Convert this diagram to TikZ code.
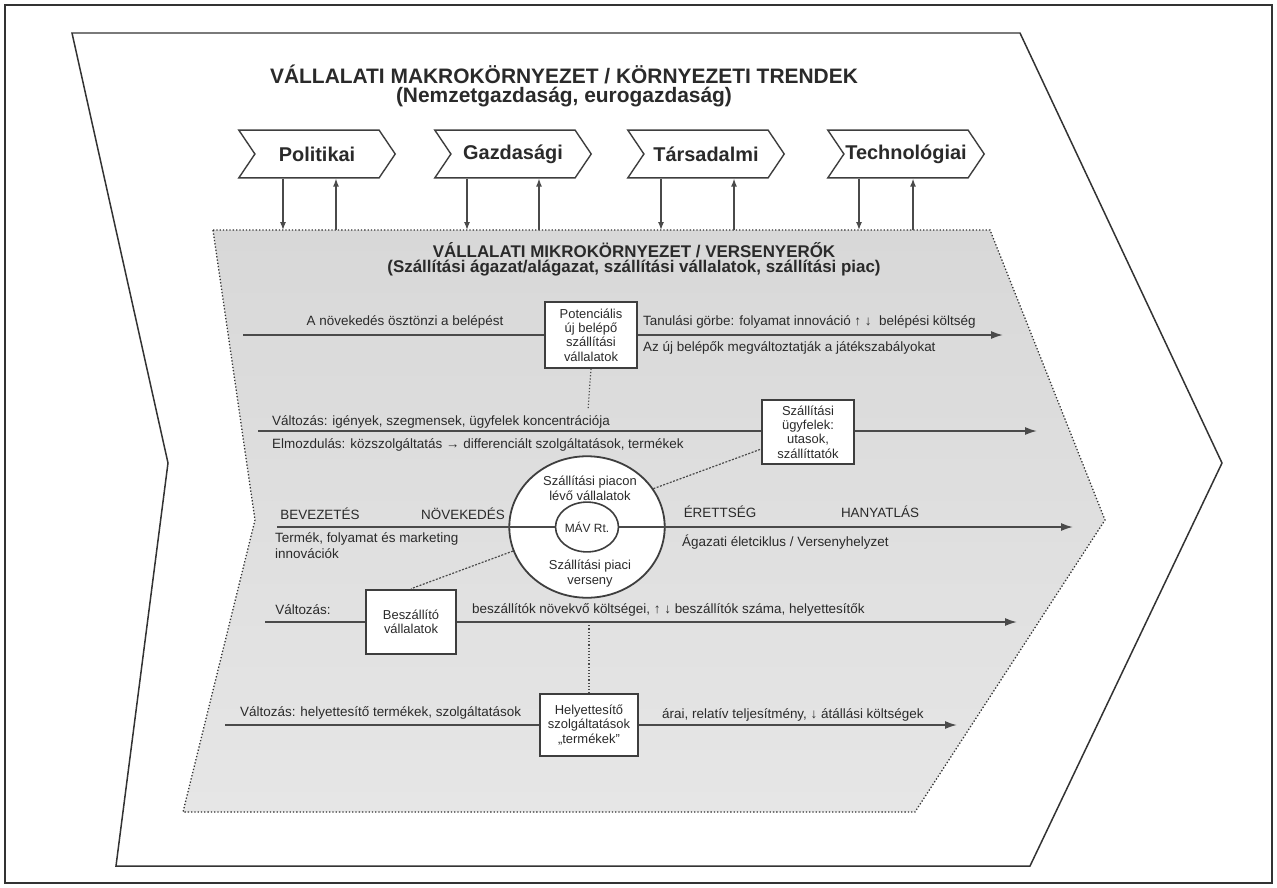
\documentclass[tikz,border=0pt]{standalone}
\usepackage{fontspec}
\setmainfont{Liberation Sans}
\usetikzlibrary{arrows.meta,shapes.geometric,shapes.symbols}

\definecolor{ink}{HTML}{2A2A2A}
\definecolor{frameline}{HTML}{333333}
\definecolor{flowline}{HTML}{4A4A4A}
\definecolor{boxline}{HTML}{3E3E3E}
\definecolor{shadetop}{HTML}{D8D8D8}
\definecolor{shademid}{HTML}{BBBBBB}
\definecolor{shadebot}{HTML}{E6E6E6}

\tikzset{
  smalltext/.style={inner sep=0pt, text=ink, font=\fontsize{13.5}{16}\selectfont},
  bigtitle/.style={inner sep=0pt, text=ink, font=\bfseries\fontsize{21}{24}\selectfont},
  midtitle/.style={inner sep=0pt, text=ink, font=\bfseries\fontsize{17}{19}\selectfont},
  forcebox/.style={draw=boxline, line width=1.8, fill=white, align=center,
    inner sep=0pt, text=ink, font=\fontsize{13}{14.5}\selectfont},
  flow/.style={draw=flowline, line width=1.7},
  flowarrow/.style={flow, -{Latex[length=12,width=8]}},
  link/.style={draw=flowline, line width=1.2, dashed, dash pattern=on 2pt off 1.5pt},
  pest/.style={signal, signal to=east, signal from=west, signal pointer angle=112,
    draw=boxline, line width=1.4, fill=white, minimum height=48, minimum width=157,
    inner sep=0pt, text=ink, font=\bfseries\fontsize{20}{22}\selectfont},
  pestarrow/.style={draw=flowline, line width=1.3, -{Latex[length=8,width=6]}},
}

\begin{document}
\begin{tikzpicture}[x=1bp,y=-1bp]
\useasboundingbox (0,0) rectangle (1277,888);
\fill[white] (0,0) rectangle (1277,888);
\draw[frameline, line width=1.4] (5,5) rectangle (1272,883);

% macro environment: large chevron
\draw[frameline, line width=1.5] (72,33) -- (1020,33) -- (1222,463) -- (1030,866)
  -- (116,866) -- (168,463) -- cycle;

\node[bigtitle] (mactitle) at (564,74) {VÁLLALATI MAKROKÖRNYEZET / KÖRNYEZETI TRENDEK};
\node[bigtitle] (macsub) at (564,97) {(Nemzetgazdaság, eurogazdaság)};

% PEST factors
\node[pest] (pol) at (317,154) {Politikai};
\node[pest] (gaz) at (513,154) {Gazdasági};
\node[pest] (tar) at (706,154) {Társadalmi};
\node[pest] (tech) at (906,154) {Technológiai};

% micro environment: shaded dotted chevron
\shade[top color=shadetop, middle color=shademid, bottom color=shadebot]
  (213,230) -- (990,230) -- (1105,520) -- (915,812) -- (183,812) -- (255,520) -- cycle;
\draw[frameline, dotted, line width=1.3]
  (213,230) -- (990,230) -- (1105,520) -- (915,812) -- (183,812) -- (255,520) -- cycle;

% arrows between macro factors and the micro environment
\coordinate (pd1) at (283,230); \coordinate (pu1) at (336,230);
\coordinate (pd2) at (467,230); \coordinate (pu2) at (539,230);
\coordinate (pd3) at (661,230); \coordinate (pu3) at (734,230);
\coordinate (pd4) at (859,230); \coordinate (pu4) at (913,230);
\draw[pestarrow] (pol.south -| pd1) -- (pd1);
\draw[pestarrow] (pu1) -- (pol.south -| pu1);
\draw[pestarrow] (gaz.south -| pd2) -- (pd2);
\draw[pestarrow] (pu2) -- (gaz.south -| pu2);
\draw[pestarrow] (tar.south -| pd3) -- (pd3);
\draw[pestarrow] (pu3) -- (tar.south -| pu3);
\draw[pestarrow] (tech.south -| pd4) -- (pd4);
\draw[pestarrow] (pu4) -- (tech.south -| pu4);

\node[midtitle] (mictitle) at (634,250) {VÁLLALATI MIKROKÖRNYEZET / VERSENYERŐK};
\node[midtitle] (micsub) at (634,268) {(Szállítási ágazat/alágazat, szállítási vállalatok, szállítási piac)};

% row 1: potential entrants
\node[forcebox, minimum width=92, minimum height=66] (pot) at (591,335)
  {Potenciális\\új belépő\\szállítási\\vállalatok};
\coordinate (r1s) at (243,335);
\coordinate (r1e) at (1003,335);
\draw[flow] (r1s) -- (pot);
\draw[flowarrow] (pot) -- (r1e);
\node[smalltext] (t1a) at (405,322) {A növekedés ösztönzi a belépést};
\node[smalltext, anchor=west] (t1b) at (643,322) {Tanulási görbe: folyamat innováció ↑ ↓ \ belépési költség};
\node[smalltext, anchor=west] (t1c) at (643,348) {Az új belépők megváltoztatják a játékszabályokat};
\coordinate (potend) at (588,410);
\draw[flowline, line width=1.2, dotted] (pot.south) -- (potend);

% row 2: customers
\node[forcebox, minimum width=93, minimum height=65] (ugy) at (808,432)
  {Szállítási\\ügyfelek:\\utasok,\\szállíttatók};
\coordinate (r2s) at (258,431);
\coordinate (r2e) at (1037,431);
\draw[flow] (r2s) -- (ugy.west |- r2s);
\draw[flowarrow] (ugy.east |- r2e) -- (r2e);
\node[smalltext, anchor=west] (t2a) at (272,422) {Változás: igények, szegmensek, ügyfelek koncentrációja};
\node[smalltext, anchor=west] (t2b) at (272,445) {Elmozdulás: közszolgáltatás → differenciált szolgáltatások, termékek};

% row 3: industry life cycle and rivalry
\node[draw=boxline, line width=1.8, fill=white, ellipse, minimum width=156, minimum height=142,
  inner sep=0pt] (piac) at (587,527) {};
\node[draw=boxline, line width=1.6, fill=white, ellipse, minimum width=60, minimum height=50,
  inner sep=0pt, text=ink, font=\fontsize{12}{14}\selectfont] (mav) at (587,527) {MÁV Rt.};
\node[smalltext, align=center, font=\fontsize{13}{15}\selectfont] (piacfel) at (590,488)
  {Szállítási piacon\\lévő vállalatok};
\node[smalltext, align=center, font=\fontsize{13}{15}\selectfont] (piacle) at (590,574)
  {Szállítási piaci\\verseny};
\coordinate (r3s) at (277,527);
\coordinate (r3e) at (1073,527);
\draw[flow] (r3s) -- (mav.west);
\draw[flowarrow] (mav.east) -- (r3e);
\node[smalltext] (bev) at (320,514) {BEVEZETÉS};
\node[smalltext] (nov) at (463,514) {NÖVEKEDÉS};
\node[smalltext] (ere) at (720,512) {ÉRETTSÉG};
\node[smalltext] (han) at (880,512) {HANYATLÁS};
\node[smalltext, anchor=west, align=left] (t3a) at (275,546) {Termék, folyamat és marketing\\innovációk};
\node[smalltext, anchor=west] (t3b) at (682,542) {Ágazati életciklus / Versenyhelyzet};

% links from the market circle
\draw[link] (piac.30) -- (ugy.200);

% row 4: suppliers
\node[forcebox, minimum width=91, minimum height=65] (besz) at (411,622)
  {Beszállító\\vállalatok};
\coordinate (r4s) at (265,622);
\coordinate (r4e) at (1017,622);
\draw[flow] (r4s) -- (besz);
\draw[flowarrow] (besz) -- (r4e);
\node[smalltext] (t4a) at (303,610) {Változás:};
\node[smalltext, anchor=west] (t4b) at (472,610) {beszállítók növekvő költségei, ↑ ↓ beszállítók száma, helyettesítők};
\draw[link] (piac.198) -- (besz.north);

% row 5: substitutes
\node[forcebox, minimum width=98, minimum height=63] (hely) at (589,725)
  {Helyettesítő\\szolgáltatások\\„termékek”};
\coordinate (r5s) at (225,725);
\coordinate (r5e) at (957,725);
\draw[flow] (r5s) -- (hely);
\draw[flowarrow] (hely) -- (r5e);
\node[smalltext, anchor=west] (t5a) at (240,713) {Változás: helyettesítő termékek, szolgáltatások};
\node[smalltext, anchor=west] (t5b) at (662,715) {árai, relatív teljesítmény, ↓ átállási költségek};
\coordinate (j4) at (589,622);
\draw[flowline, line width=1.2, dotted] (j4) -- (hely.north);
\end{tikzpicture}
\end{document}
